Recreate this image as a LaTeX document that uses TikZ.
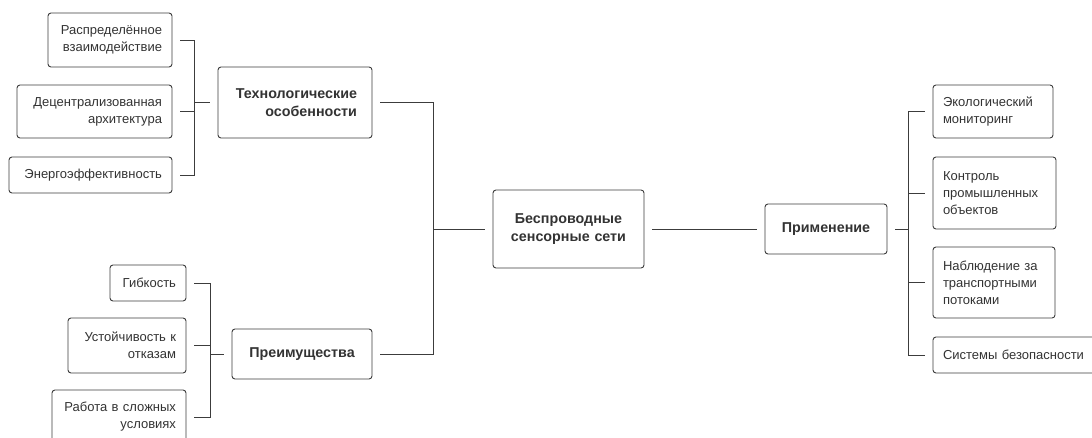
\documentclass[tikz,border=0pt]{standalone}
\usepackage{fontspec}
\setmainfont{Liberation Sans}
\definecolor{boxc}{HTML}{3C3C3C}
\definecolor{linec}{HTML}{3C3C3C}
\begin{document}
\begin{tikzpicture}[x=1pt,y=-1pt,
  box/.style={draw=boxc, line width=0.9pt, rounded corners=3pt, inner xsep=10pt, inner ysep=0pt,
    outer xsep=8pt, outer ysep=0pt, text=black!80, font=\fontsize{13}{17}\selectfont},
  lbox/.style={box, align=right},
  rbox/.style={box, align=left},
  hub/.style={box, inner xsep=15pt, font=\fontsize{14.3}{18}\selectfont\bfseries},
  link/.style={draw=linec, line width=0.9pt}]
\clip (0,0) rectangle (1092,438);
\fill[white] (0,0) rectangle (1092,438);

% left-top group
\node[lbox, text width=104pt, minimum height=54pt] (n1) at (110,40) {Распределённое\\взаимодействие};
\node[lbox, text width=135pt, minimum height=53pt] (n2) at (94.5,111.5) {Децентрализованная\\архитектура};
\node[lbox, text width=143pt, minimum height=36pt] (n3) at (90.5,175) {Энергоэффективность};
\node[hub, align=right, text width=124pt, minimum height=71pt] (tech) at (295,102.5) {Технологические\\особенности};

% left-bottom group
\node[lbox, text width=56pt, minimum height=36pt] (g1) at (148,283) {Гибкость};
\node[lbox, text width=98pt, minimum height=55pt] (g2) at (127,345.5) {Устойчивость к\\отказам};
\node[lbox, text width=114pt, minimum height=54pt] (g3) at (119,417) {Работа в сложных\\условиях};
\node[hub, align=center, text width=110pt, minimum height=50pt] (adv) at (302,354) {Преимущества};

% centre
\node[hub, align=center, text width=121pt, minimum height=78pt] (wsn) at (568.5,229) {Беспроводные\\сенсорные сети};
\node[hub, align=center, text width=92pt, minimum height=50pt] (app) at (826,229) {Применение};

% right group
\node[rbox, text width=100pt, minimum height=53pt] (r1) at (993,111.5) {Экологический\\мониторинг};
\node[rbox, text width=103pt, minimum height=72pt] (r2) at (994.5,193) {Контроль\\промышленных\\объектов};
\node[rbox, text width=102pt, minimum height=71pt] (r3) at (994,282.5) {Наблюдение за\\транспортными\\потоками};
\node[rbox, text width=142pt, minimum height=36pt] (r4) at (1014,355) {Системы безопасности};

% junction points
\coordinate (b1) at (194,102.5);
\coordinate (b2) at (210,354);
\coordinate (c) at (433,229);
\coordinate (b3) at (908,229);

% connectors
\draw[link] (n1.east) -| (b1);
\draw[link] (n2.east) -| (b1);
\draw[link] (n3.east) -| (b1);
\draw[link] (b1) -- (tech.west);

\draw[link] (g1.east) -| (b2);
\draw[link] (g2.east) -| (b2);
\draw[link] (g3.east) -| (b2);
\draw[link] (b2) -- (adv.west);

\draw[link] (tech.east) -| (c);
\draw[link] (adv.east) -| (c);
\draw[link] (c) -- (wsn.west);

\draw[link] (wsn.east) -- (app.west);
\draw[link] (app.east) -- (b3);
\draw[link] (b3) |- (r1.west);
\draw[link] (b3) |- (r2.west);
\draw[link] (b3) |- (r3.west);
\draw[link] (b3) |- (r4.west);
\end{tikzpicture}
\end{document}
